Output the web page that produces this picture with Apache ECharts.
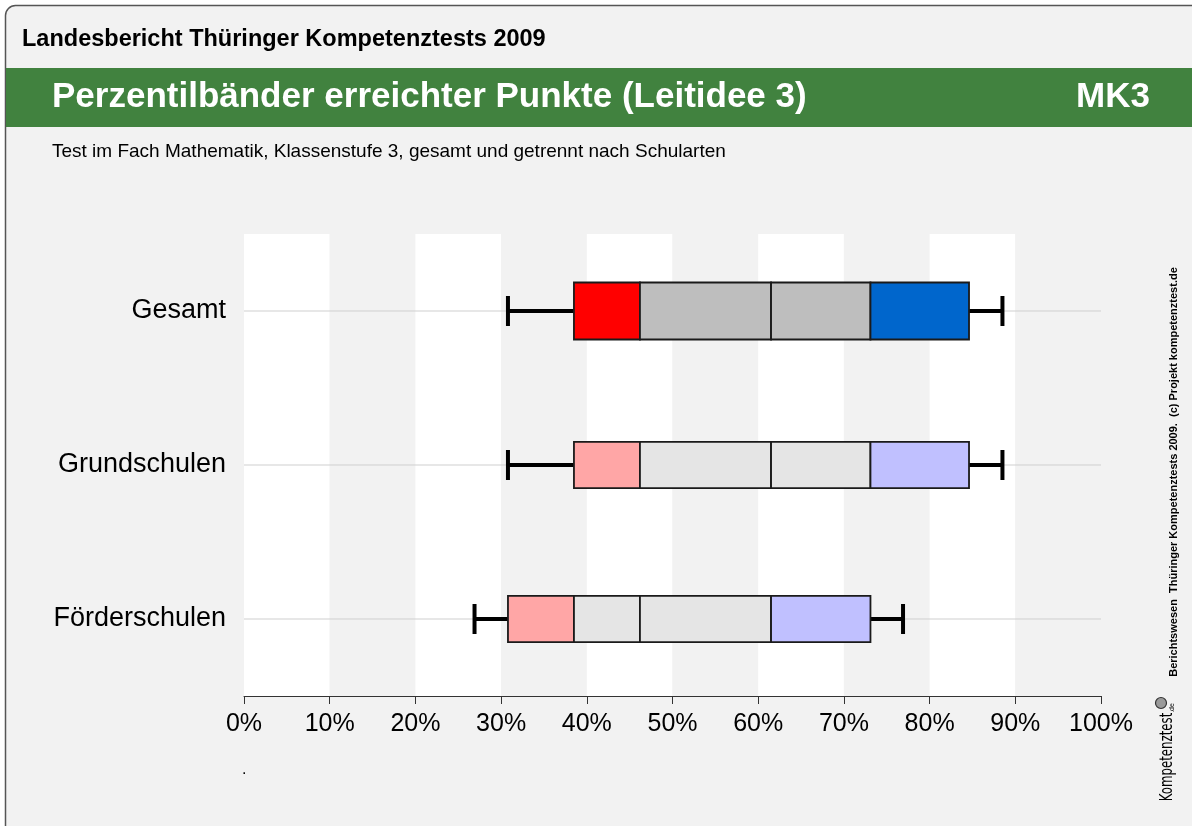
<!DOCTYPE html>
<html>
<head>
<meta charset="utf-8">
<title>Perzentilbänder erreichter Punkte (Leitidee 3)</title>
<script src="https://cdn.jsdelivr.net/npm/echarts@6/dist/echarts.min.js"></script>
<style>
  html, body { margin: 0; padding: 0; background: #fff; }
  #chart { width: 1192px; height: 826px; }
</style>
</head>
<body>
<div id="chart"></div>
<script>
// percentile bands, values in % of reachable points
const categories = ['Gesamt', 'Grundschulen', 'Förderschulen'];
const p5 = [30.8, 30.8, 26.9];
const p10 = [38.5, 38.5, 30.8];
const p25 = [46.2, 46.2, 38.5];
const p50 = [61.5, 61.5, 46.2];
const p75 = [73.1, 73.1, 61.5];
const p90 = [84.6, 84.6, 73.1];
const p95 = [88.5, 88.5, 76.9];
const xTicks = [0, 10, 20, 30, 40, 50, 60, 70, 80, 90, 100];

// look of each row
const strongFills = ['#ff0000', '#bebebe', '#bebebe', '#0066cc'];
const lightFills = ['#ffa6a6', '#e5e5e5', '#e5e5e5', '#c0c0ff'];
const rowFills = [strongFills, lightFills, lightFills];
const boxRatio = [0.37, 0.3, 0.3];
const capRatio = 0.195;

const rows = categories.map((c, i) => [i, p5[i], p10[i], p25[i], p50[i], p75[i], p90[i], p95[i]]);

function renderBand(params, api) {
  const i = api.value(0);
  const v = [1, 2, 3, 4, 5, 6, 7].map(k => api.value(k));
  const band = api.size([0, 1])[1];
  const h = band * boxRatio[i];
  const cap = band * capRatio;
  const cy = api.coord([0, i])[1];
  const xs = v.map(val => api.coord([val, i])[0]);
  const children = [];
  // horizontal guide line
  children.push({
    type: 'line',
    shape: { x1: api.coord([0, i])[0], y1: cy, x2: api.coord([100, i])[0], y2: cy },
    style: { stroke: '#cfcfcf', lineWidth: 1 }
  });
  // whiskers
  const wStyle = { stroke: '#000', lineWidth: 4 };
  children.push({ type: 'line', shape: { x1: xs[0], y1: cy, x2: xs[1], y2: cy }, style: wStyle });
  children.push({ type: 'line', shape: { x1: xs[0], y1: cy - cap / 2, x2: xs[0], y2: cy + cap / 2 }, style: wStyle });
  children.push({ type: 'line', shape: { x1: xs[5], y1: cy, x2: xs[6], y2: cy }, style: wStyle });
  children.push({ type: 'line', shape: { x1: xs[6], y1: cy - cap / 2, x2: xs[6], y2: cy + cap / 2 }, style: wStyle });
  // box segments
  for (let k = 0; k < 4; k++) {
    children.push({
      type: 'rect',
      shape: { x: xs[k + 1], y: cy - h / 2, width: xs[k + 2] - xs[k + 1], height: h },
      style: { fill: rowFills[i][k], stroke: '#1a1a1a', lineWidth: 1.8 }
    });
  }
  return { type: 'group', children: children };
}

const chart = echarts.init(document.getElementById('chart'));
const sans = '"Liberation Sans", Arial, sans-serif';

chart.setOption({
  backgroundColor: '#ffffff',
  animation: false,
  grid: { left: 244, right: 91, top: 234, bottom: 130, containLabel: false },
  xAxis: {
    type: 'value',
    min: xTicks[0],
    max: xTicks[xTicks.length - 1],
    interval: xTicks[1] - xTicks[0],
    axisLine: { show: true, lineStyle: { color: '#333', width: 1 } },
    axisTick: { show: true, length: 8, lineStyle: { color: '#333' } },
    axisLabel: {
      formatter: '{value}%',
      color: '#000',
      fontSize: 25,
      fontFamily: sans,
      margin: 16
    },
    splitLine: { show: false },
    splitArea: { show: true, areaStyle: { color: ['#ffffff', '#f2f2f2'] } }
  },
  yAxis: {
    type: 'category',
    data: categories,
    inverse: true,
    axisLine: { show: false },
    axisTick: { show: false },
    splitLine: { show: false },
    axisLabel: { color: '#000', fontSize: 27, fontFamily: sans, margin: 18 }
  },
  series: [{
    type: 'custom',
    renderItem: renderBand,
    encode: { x: [1, 2, 3, 4, 5, 6, 7], y: 0 },
    data: rows,
    clip: false
  }],
  graphic: [
    {
      type: 'rect', z: -10,
      shape: { x: 5.5, y: 5.5, width: 1240, height: 880, r: 10 },
      style: { fill: '#f2f2f2', stroke: '#555', lineWidth: 1.5 }
    },
    {
      type: 'rect', z: -9,
      shape: { x: 6, y: 68, width: 1200, height: 59 },
      style: { fill: '#41823f' }
    },
    {
      type: 'text', left: 22, top: 28,
      style: { text: 'Landesbericht Thüringer Kompetenztests 2009', fill: '#000',
        font: 'bold 23.5px ' + sans }
    },
    {
      type: 'text', left: 52, top: 80,
      style: { text: 'Perzentilbänder erreichter Punkte (Leitidee 3)', fill: '#fff',
        font: 'bold 35px ' + sans }
    },
    {
      type: 'text', right: 42, top: 80,
      style: { text: 'MK3', fill: '#fff', font: 'bold 35px ' + sans }
    },
    {
      type: 'text', left: 52, top: 142,
      style: { text: 'Test im Fach Mathematik, Klassenstufe 3, gesamt und getrennt nach Schularten',
        fill: '#000', font: '19px ' + sans }
    },
    {
      type: 'text', x: 1174, y: 472, rotation: Math.PI / 2,
      style: { text: 'Berichtswesen  Thüringer Kompetenztests 2009.  (c) Projekt kompetenztest.de',
        fill: '#000', font: 'bold 11px ' + sans, align: 'center', verticalAlign: 'middle' }
    },
    {
      type: 'text', x: 1168, y: 757, rotation: Math.PI / 2, scaleX: 0.77,
      style: { text: 'Kompetenztest', fill: '#000', font: '17px "DejaVu Sans Condensed", "Liberation Sans Narrow", ' + sans,
        align: 'center', verticalAlign: 'middle' }
    },
    {
      type: 'text', x: 1172, y: 708, rotation: Math.PI / 2,
      style: { text: '.de', fill: '#000', font: '7px ' + sans, align: 'center', verticalAlign: 'middle' }
    },
    {
      type: 'circle',
      shape: { cx: 1161, cy: 703, r: 5.5 },
      style: { fill: '#9a9a9a', stroke: '#333', lineWidth: 1.2 }
    },
    {
      type: 'text', x: 242, y: 762,
      style: { text: '.', fill: '#000', font: '16px ' + sans }
    }
  ]
});
</script>
</body>
</html>
